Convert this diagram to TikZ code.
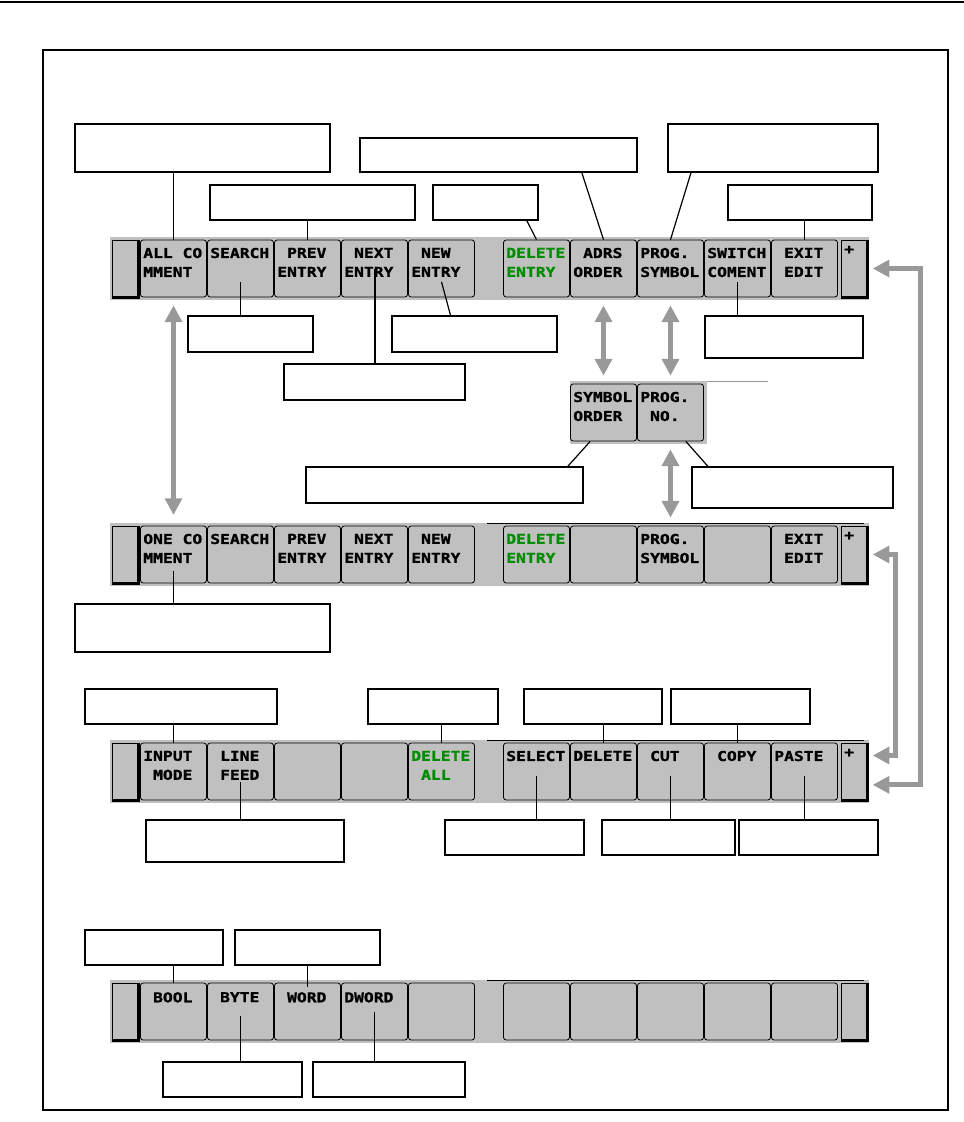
\documentclass[tikz,border=0pt]{standalone}
\usepackage{fontspec}
\usetikzlibrary{arrows.meta,fit}

\newfontfamily\keyfont[FakeStretch=1.2,BoldFeatures={FakeBold=1.2}]{DejaVu Sans Mono}
\definecolor{keygray}{RGB}{192,192,192}
\definecolor{arrowgray}{RGB}{153,153,153}
\definecolor{keygreen}{RGB}{0,140,0}
\newcommand\sk{\hphantom{0}}

\begin{document}
\begin{tikzpicture}[
    x=0.75pt,y=-0.75pt,
    softkey/.style={
        rectangle,rounded corners=2pt,
        draw=black,line width=0.6pt,fill=keygray,
        minimum width=49.5pt,minimum height=42.75pt,inner sep=0pt
    },
    endkey/.style={
        rectangle,draw=black,line width=0.5pt,fill=keygray,
        minimum width=19.5pt,minimum height=42.75pt,inner sep=0pt
    },
    keyshadow/.style={line width=2.2pt,line join=miter},
    keylabel/.style={
        font=\keyfont\bfseries\fontsize{10.2}{14.25}\selectfont,
        align=left,inner sep=0pt,anchor=north west
    },
    callbox/.style={draw=black,line width=1.1pt,fill=white,inner sep=0pt},
    callline/.style={draw=black,line width=0.9pt},
    bigarrow/.style={
        draw=arrowgray,line width=3.8pt,line join=miter,
        arrows={Triangle[length=12.5pt,width=12.5pt]-Triangle[length=12.5pt,width=12.5pt]}
    }
]
\useasboundingbox (0,0) rectangle (964,1122);

% ------------------------------------------------
% Page rule and frame
% ------------------------------------------------
\draw[line width=1.5pt] (0,1.5) -- (964,1.5);
\draw[line width=1.1pt] (43,50) rectangle (948,1110);

% ------------------------------------------------
% Soft key bars: row r has its key tops at \ty
% ------------------------------------------------
\foreach \r/\ty in {1/240,2/526,3/743,4/983} {
    \fill[keygray] (110,\ty-3) rectangle (869,\ty+60);
    \ifnum\r>1
        \draw[line width=0.5pt] (487,\ty-3) -- (864,\ty-3);
    \fi
    \node[endkey] (e\r) at (125,\ty+28.5) {};
    \draw[keyshadow] (e\r.north east) -- (e\r.south east) -- (e\r.south west);
    \node[endkey] (p\r) at (854,\ty+28.5) {};
    \draw[keyshadow] (p\r.north east) -- (p\r.south east) -- (p\r.south west);
    \foreach \i in {1,...,10} {
        \pgfmathsetmacro\kx{(\i<6) ? (173.5+67*(\i-1)) : (536.5+67*(\i-6))}
        \node[softkey] (k\r-\i) at (\kx,\ty+28.5) {};
    }
}

% "+" on the page keys
\foreach \r in {1,2,3}
    \node[keylabel] (plus\r) at ([xshift=2.5pt,yshift=-4.5pt]p\r.north west) {+};

% ------------------------------------------------
% Key texts
% ------------------------------------------------
\foreach \i/\la/\lb/\col in {
    1/ALL CO/MMENT/black, 2/SEARCH/{}/black, 3/\sk PREV/ENTRY/black,
    4/\sk NEXT/ENTRY/black, 5/\sk NEW/ENTRY/black, 6/DELETE/ENTRY/keygreen,
    7/\sk ADRS/ORDER/black, 8/PROG./SYMBOL/black, 9/SWITCH/COMENT/black,
    10/\sk EXIT/\sk EDIT/black}
    \node[keylabel,text=\col] (t1-\i) at ([xshift=2.2pt,yshift=-6pt]k1-\i.north west) {\la\\\lb};

\foreach \i/\la/\lb/\col in {
    1/ONE CO/MMENT/black, 2/SEARCH/{}/black, 3/\sk PREV/ENTRY/black,
    4/\sk NEXT/ENTRY/black, 5/\sk NEW/ENTRY/black, 6/DELETE/ENTRY/keygreen,
    8/PROG./SYMBOL/black, 10/\sk EXIT/\sk EDIT/black}
    \node[keylabel,text=\col] (t2-\i) at ([xshift=2.2pt,yshift=-6pt]k2-\i.north west) {\la\\\lb};

\foreach \i/\la/\lb/\col in {
    1/INPUT/\sk MODE/black, 2/\sk LINE/\sk FEED/black, 5/DELETE/\sk ALL/keygreen,
    6/SELECT/{}/black, 7/DELETE/{}/black, 8/\sk CUT/{}/black,
    9/\sk COPY/{}/black, 10/PASTE/{}/black}
    \node[keylabel,text=\col] (t3-\i) at ([xshift=2.2pt,yshift=-6pt]k3-\i.north west) {\la\\\lb};

\foreach \i/\la in {1/\sk BOOL, 2/\sk BYTE, 3/\sk WORD, 4/DWORD}
    \node[keylabel] (t4-\i) at ([xshift=2.2pt,yshift=-7pt]k4-\i.north west) {\la};

% ------------------------------------------------
% Sub-menu of ADRS ORDER / PROG. SYMBOL
% ------------------------------------------------
\fill[keygray] (570,381) rectangle (707,444);
\draw[line width=0.5pt,draw=arrowgray] (707,381) -- (768,381);
\node[softkey] (m1) at (603.5,412.5) {};
\node[softkey] (m2) at (670.5,412.5) {};
\node[keylabel] (tm1) at ([xshift=2.2pt,yshift=-6pt]m1.north west) {SYMBOL\\ORDER};
\node[keylabel] (tm2) at ([xshift=2.2pt,yshift=-6pt]m2.north west) {PROG.\\\sk NO.};

% ------------------------------------------------
% Grey switching arrows
% ------------------------------------------------
\draw[bigarrow] ([yshift=-6pt]k1-1.south) -- ([yshift=8pt]k2-1.north);
\draw[bigarrow] ([yshift=-6pt]k1-7.south) -- ([yshift=6pt]m1.north);
\draw[bigarrow] ([yshift=-6pt]k1-8.south) -- ([yshift=6pt]m2.north);
\draw[bigarrow] ([yshift=-6pt]m2.south) -- ([yshift=6pt]k2-8.north);

\draw[bigarrow] ([xshift=4pt]p1.east) -- ++(48,0) |- ([xshift=4pt,yshift=-10pt]p3.east);
\draw[bigarrow] ([xshift=4pt]p2.east) -- ++(23,0) |- ([xshift=4pt,yshift=12pt]p3.east);

% ------------------------------------------------
% Call-out boxes
% ------------------------------------------------
\node[callbox,fit={(75,124) (330,172)}] (cAllCmt) {};
\node[callbox,fit={(210,185) (415,220)}] (cPrev) {};
\node[callbox,fit={(433,185) (538,220)}] (cDelEntry) {};
\node[callbox,fit={(360,138) (637,172)}] (cAdrs) {};
\node[callbox,fit={(668,124) (878,172)}] (cProgSym) {};
\node[callbox,fit={(728,185) (872,220)}] (cExit) {};

\node[callbox,fit={(188,316) (313,352)}] (cSearch) {};
\node[callbox,fit={(284,364) (465,400)}] (cNext) {};
\node[callbox,fit={(392,316) (557,352)}] (cNew) {};
\node[callbox,fit={(705,316) (863,358)}] (cSwitch) {};

\node[callbox,fit={(306,467) (583,503)}] (cSymOrder) {};
\node[callbox,fit={(692,467) (893,508)}] (cProgNo) {};

\node[callbox,fit={(75,604) (330,652)}] (cOneCmt) {};

\node[callbox,fit={(85,689) (277,724)}] (cInput) {};
\node[callbox,fit={(368,689) (498,724)}] (cDelAll) {};
\node[callbox,fit={(524,689) (662,724)}] (cSelDel) {};
\node[callbox,fit={(671,689) (810,724)}] (cCopy) {};

\node[callbox,fit={(146,820) (344,862)}] (cLineFeed) {};
\node[callbox,fit={(445,820) (584,855)}] (cSelect) {};
\node[callbox,fit={(602,820) (735,855)}] (cCut) {};
\node[callbox,fit={(739,820) (878,855)}] (cPaste) {};

\node[callbox,fit={(85,930) (223,965)}] (cBool) {};
\node[callbox,fit={(235,930) (380,965)}] (cWord) {};
\node[callbox,fit={(163,1062) (302,1097)}] (cByte) {};
\node[callbox,fit={(313,1062) (465,1097)}] (cDword) {};

% ------------------------------------------------
% Call-out leaders
% ------------------------------------------------
\draw[callline] (cAllCmt.south -| k1-1) -- (k1-1.north);
\draw[callline] (cPrev.south -| k1-3) -- (k1-3.north);
\draw[callline] ([xshift=31pt]cDelEntry.south) -- (k1-6.north);
\draw[callline] ([xshift=62.5pt]cAdrs.south) -- (k1-7.north);
\draw[callline] ([xshift=-61.5pt]cProgSym.south) -- (k1-8.north);
\draw[callline] (cExit.south -| k1-10) -- (k1-10.north);

\draw[callline] ([yshift=-10pt]k1-2.center) -- (cSearch.north -| k1-2);
\draw[callline,line width=1.5pt] (k1-4.center) -- (cNext.north -| k1-4);
\draw[callline] ([yshift=-10pt]k1-5.center) -- ([xshift=-18pt]cNew.north);
\draw[callline] ([yshift=-10pt]k1-9.center) -- (cSwitch.north -| k1-9);

\draw[callline] ([xshift=-10pt]m1.south) -- ([xshift=92.5pt]cSymOrder.north);
\draw[callline] ([xshift=11.5pt]m2.south) -- ([xshift=-63.5pt]cProgNo.north);

\draw[callline] ([yshift=-12pt]k2-1.center) -- (cOneCmt.north -| k2-1);

\draw[callline] (cInput.south -| k3-1) -- (k3-1.north);
\draw[callline] (cDelAll.south -| k3-5) -- (k3-5.north);
\draw[callline] (cSelDel.south -| k3-7) -- (k3-7.north);
\draw[callline] (cCopy.south -| k3-9) -- (k3-9.north);

\draw[callline] ([yshift=-8pt]k3-2.center) -- (cLineFeed.north -| k3-2);
\draw[callline] ([yshift=-3pt]k3-6.center) -- (cSelect.north -| k3-6);
\draw[callline] ([yshift=-3pt]k3-8.center) -- (cCut.north -| k3-8);
\draw[callline] ([yshift=-3pt]k3-10.center) -- (cPaste.north -| k3-10);

\draw[callline] (cBool.south -| k4-1) -- (k4-1.north);
\draw[callline] (cWord.south -| k4-3) -- ([yshift=-3pt]k4-3.north);
\draw[callline] ([yshift=-3pt]k4-2.center) -- (cByte.north -| k4-2);
\draw[callline,line width=1.3pt] (k4-4.center) -- (cDword.north -| k4-4);

\end{tikzpicture}
\end{document}
